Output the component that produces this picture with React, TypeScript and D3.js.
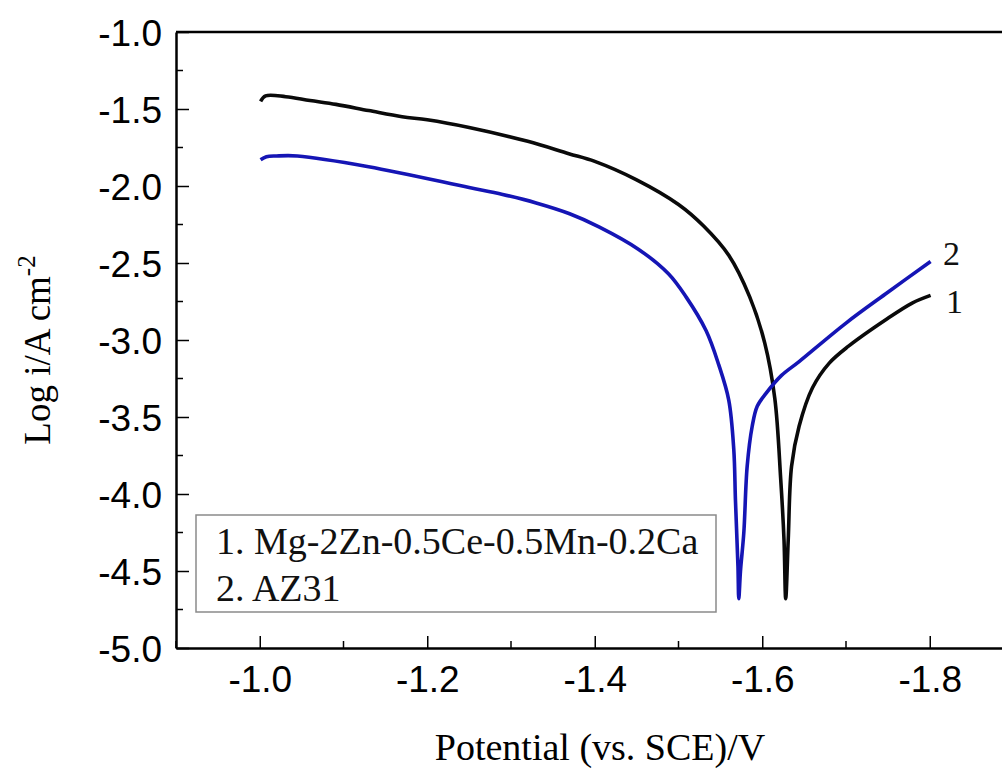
import React, { useEffect, useRef } from 'react';
import * as d3 from 'd3';

// curve 1: Mg-2Zn-0.5Ce-0.5Mn-0.2Ca (black)
const potential1 = [-1.001, -1.007, -1.031, -1.06, -1.091, -1.13, -1.17, -1.2, -1.25, -1.32, -1.369, -1.40, -1.45, -1.50, -1.53, -1.56, -1.585, -1.603, -1.615, -1.622, -1.626, -1.628, -1.631, -1.635, -1.644, -1.66, -1.68, -1.703, -1.747, -1.779, -1.801];
const logI1 = [-1.45, -1.415, -1.42, -1.445, -1.47, -1.51, -1.55, -1.57, -1.62, -1.71, -1.79, -1.84, -1.96, -2.12, -2.26, -2.45, -2.72, -3.02, -3.38, -3.9, -4.3, -4.68, -4.3, -3.82, -3.56, -3.31, -3.15, -3.04, -2.87, -2.76, -2.71];

// curve 2: AZ31 (blue)
const potential2 = [-1.001, -1.008, -1.02, -1.045, -1.13, -1.25, -1.29, -1.33, -1.37, -1.405, -1.452, -1.488, -1.509, -1.533, -1.548, -1.56, -1.566, -1.568, -1.571, -1.572, -1.574, -1.578, -1.582, -1.588, -1.594, -1.604, -1.623, -1.644, -1.70, -1.75, -1.801];
const logI2 = [-1.83, -1.81, -1.805, -1.805, -1.875, -2.01, -2.055, -2.11, -2.18, -2.265, -2.41, -2.57, -2.72, -2.94, -3.16, -3.39, -3.71, -4.04, -4.47, -4.68, -4.5, -4.25, -3.82, -3.56, -3.43, -3.35, -3.23, -3.14, -2.89, -2.69, -2.49];

const legendLines = ['1. Mg-2Zn-0.5Ce-0.5Mn-0.2Ca', '2. AZ31'];
const xTicks = [-1.0, -1.2, -1.4, -1.6, -1.8];
const yTicks = [-1.0, -1.5, -2.0, -2.5, -3.0, -3.5, -4.0, -4.5, -5.0];

const W = 1002;
const H = 770;
const sans = 'Liberation Sans, Arial, sans-serif';
const serif = 'Liberation Serif, Times New Roman, serif';

export default function App() {
  const ref = useRef<SVGSVGElement>(null);

  useEffect(() => {
    const svg = d3.select(ref.current);
    svg.selectAll('*').remove();

    const x = d3.scaleLinear().domain([-0.9, -1.9]).range([176, 1013.5]);
    const y = d3.scaleLinear().domain([-5, -1]).range([648, 32]);

    const line = d3.line<[number, number]>()
      .x(d => x(d[0]))
      .y(d => y(d[1]))
      .curve(d3.curveCatmullRom.alpha(0.5));

    const s1 = potential1.map((v, i) => [v, logI1[i]] as [number, number]);
    const s2 = potential2.map((v, i) => [v, logI2[i]] as [number, number]);

    svg.append('path').attr('d', line(s1)).attr('fill', 'none')
      .attr('stroke', '#0a0a0a').attr('stroke-width', 3.6).attr('stroke-linejoin', 'round');
    svg.append('path').attr('d', line(s2)).attr('fill', 'none')
      .attr('stroke', '#1515b5').attr('stroke-width', 3.6).attr('stroke-linejoin', 'round');

    // frame top
    svg.append('line').attr('x1', 176).attr('x2', W).attr('y1', 32).attr('y2', 32)
      .attr('stroke', '#000').attr('stroke-width', 2.5);

    const fmt = (d: d3.NumberValue) => (+d).toFixed(1);

    // x axis
    const gx = svg.append('g').attr('transform', 'translate(0,648)');
    gx.call(d3.axisBottom(x).tickValues(xTicks).tickSizeInner(-12).tickSizeOuter(0).tickPadding(18).tickFormat(fmt));
    gx.append('g').selectAll('line')
      .data(d3.range(-0.9, -1.95, -0.2))
      .enter().append('line')
      .attr('x1', d => x(d)).attr('x2', d => x(d))
      .attr('y1', 0).attr('y2', -7)
      .attr('stroke', '#000').attr('stroke-width', 1.5);

    // y axis
    const gy = svg.append('g').attr('transform', 'translate(176,0)');
    gy.call(d3.axisLeft(y).tickValues(yTicks).tickSizeInner(-13).tickSizeOuter(0).tickPadding(14).tickFormat(fmt));
    gy.append('g').selectAll('line')
      .data(d3.range(-1.25, -5, -0.5))
      .enter().append('line')
      .attr('x1', 0).attr('x2', 7)
      .attr('y1', d => y(d)).attr('y2', d => y(d))
      .attr('stroke', '#000').attr('stroke-width', 1.5);

    [gx, gy].forEach(g => {
      g.select('.domain').attr('stroke', '#000').attr('stroke-width', 2.5);
      g.selectAll('.tick line').attr('stroke', '#000').attr('stroke-width', 1.5);
      g.selectAll('.tick text').attr('font-family', sans).attr('font-size', 37).attr('fill', '#000');
    });
    gy.selectAll('.tick text').attr('dy', '0.36em');

    // axis titles
    svg.append('text').attr('x', 600).attr('y', 760).attr('text-anchor', 'middle')
      .attr('font-family', serif).attr('font-size', 38).attr('fill', '#000')
      .text('Potential (vs. SCE)/V');

    const yl = svg.append('text').attr('transform', 'translate(50,350) rotate(-90)')
      .attr('text-anchor', 'middle').attr('font-family', serif).attr('font-size', 37).attr('fill', '#000');
    yl.append('tspan').text('Log i/A cm');
    yl.append('tspan').attr('dy', -15).attr('font-size', 25).text('-2');

    // legend box
    svg.append('rect').attr('x', 196).attr('y', 515).attr('width', 520).attr('height', 97)
      .attr('fill', '#fff').attr('stroke', '#8a8a8a').attr('stroke-width', 1.5);
    svg.append('g').selectAll('text').data(legendLines).enter().append('text')
      .attr('x', 216).attr('y', (d, i) => 554 + i * 47)
      .attr('font-family', serif).attr('font-size', 38).attr('fill', '#111')
      .text(d => d);

    // curve labels
    svg.append('text').attr('x', 943).attr('y', 265).attr('font-family', serif)
      .attr('font-size', 34).attr('fill', '#111').text('2');
    svg.append('text').attr('x', 946).attr('y', 313).attr('font-family', serif)
      .attr('font-size', 34).attr('fill', '#111').text('1');
  }, []);

  return (
    <svg ref={ref} width={W} height={H}
      style={{ position: 'absolute', left: 0, top: 0, background: '#fff' }} />
  );
}
